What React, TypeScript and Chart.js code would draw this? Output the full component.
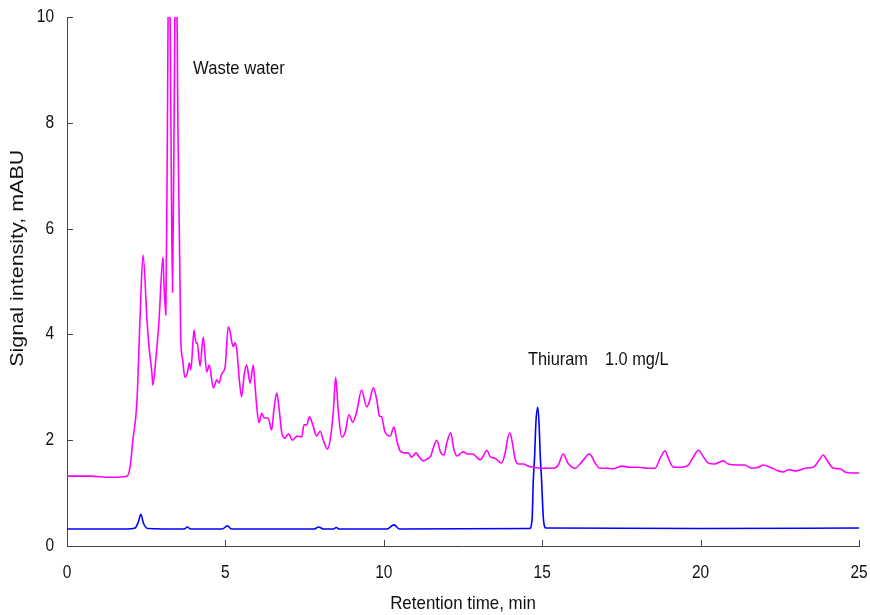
import React, { useEffect, useRef } from "react";
import { Chart, registerables } from "chart.js";

Chart.register(...registerables);

// Waste water trace (magenta): retention time (min) and signal (mABU)
const wasteTime = [
  0, 0.73, 1.36, 1.89, 1.99, 2.08, 2.21, 2.30, 2.40, 2.53, 2.59, 2.68, 2.71, 2.81, 2.90, 3.03, 3.06, 3.12,
  3.17, 3.22, 3.28, 3.33, 3.38, 3.44, 3.50, 3.59, 3.65, 3.72, 3.80, 3.86, 3.91, 4.01, 4.07, 4.11, 4.20,
  4.30, 4.41, 4.49, 4.62, 4.73, 4.80, 4.88, 4.99, 5.09, 5.15, 5.20, 5.25, 5.30, 5.36, 5.44, 5.51, 5.60,
  5.67, 5.78, 5.88, 5.93, 5.99, 6.06, 6.15, 6.22, 6.35, 6.46, 6.53, 6.62, 6.70, 6.78, 6.88, 6.99, 7.12,
  7.27, 7.41, 7.48, 7.57, 7.65, 7.76, 7.88, 7.99, 8.09, 8.22, 8.32, 8.41, 8.48, 8.56, 8.67, 8.78, 8.90,
  9.02, 9.14, 9.30, 9.46, 9.54, 9.67, 9.78, 9.86, 9.93, 10.04, 10.20, 10.32, 10.41, 10.51, 10.64, 10.77,
  10.88, 11.02, 11.12, 11.25, 11.35, 11.48, 11.56, 11.67, 11.80, 11.90, 11.99, 12.11, 12.22, 12.32,
  12.40, 12.51, 12.64, 12.81, 12.93, 13.04, 13.14, 13.25, 13.37, 13.51, 13.61, 13.72, 13.83, 13.90,
  13.98, 14.07, 14.14, 14.25, 14.40, 14.56, 14.72, 14.93, 15.14, 15.35, 15.51, 15.66, 15.81, 16.04,
  16.25, 16.49, 16.67, 16.82, 17.04, 17.24, 17.51, 17.77, 18.03, 18.35, 18.56, 18.74, 18.88, 18.98,
  19.14, 19.40, 19.61, 19.77, 19.93, 20.09, 20.24, 20.45, 20.61, 20.72, 20.87, 21.14, 21.40, 21.61,
  21.82, 21.98, 22.19, 22.45, 22.61, 22.77, 23.03, 23.30, 23.56, 23.75, 23.87, 24.00, 24.19, 24.40,
  24.56, 24.77, 25.0,
];
const wasteSignal = [
  1.32, 1.32, 1.30, 1.32, 1.49, 2.00, 2.76, 4.22, 5.50, 4.22, 3.76, 3.27, 3.04, 3.57, 4.22, 5.46, 4.97, 4.37,
  8.0, 12.0, 8.0, 4.80, 8.0, 12.0, 8.0, 3.95, 3.52, 3.19, 3.27, 3.46, 3.33, 4.08, 3.84, 3.84, 3.40,
  3.95, 3.29, 3.42, 2.99, 3.14, 3.08, 3.25, 3.38, 4.14, 4.05, 3.86, 3.77, 3.84, 3.71, 3.14, 2.82, 3.27,
  3.42, 3.08, 3.42, 3.08, 2.63, 2.33, 2.51, 2.42, 2.42, 2.19, 2.57, 2.89, 2.57, 2.14, 2.04, 2.12, 2.00,
  2.08, 2.06, 2.29, 2.29, 2.44, 2.29, 2.08, 2.17, 2.00, 1.83, 2.06, 2.57, 3.19, 2.57, 2.06, 2.15, 2.48,
  2.34, 2.53, 2.95, 2.63, 2.72, 2.99, 2.76, 2.46, 2.44, 2.15, 2.08, 2.25, 2.00, 1.80, 1.76, 1.76,
  1.68, 1.76, 1.68, 1.61, 1.64, 1.70, 1.85, 2.00, 1.76, 1.72, 1.95, 2.14, 1.81, 1.70,
  1.74, 1.78, 1.74, 1.74, 1.68, 1.63, 1.70, 1.81, 1.68, 1.66, 1.61, 1.57, 1.76, 2.00,
  2.14, 1.91, 1.66, 1.55, 1.55, 1.51, 1.49, 1.47, 1.47, 1.47, 1.53, 1.74, 1.57, 1.47,
  1.59, 1.74, 1.57, 1.47, 1.47, 1.46, 1.51, 1.49, 1.49, 1.47, 1.47, 1.68, 1.80, 1.66,
  1.49, 1.49, 1.53, 1.68, 1.81, 1.68, 1.57, 1.55, 1.59, 1.61, 1.55, 1.53, 1.53, 1.47,
  1.49, 1.53, 1.49, 1.42, 1.40, 1.44, 1.42, 1.47, 1.49, 1.63, 1.72, 1.61, 1.47, 1.46,
  1.40, 1.38, 1.38,
];

// Thiuram 1.0 mg/L trace (blue)
const thiuramTime = [
  0, 1.9, 2.15, 2.25, 2.33, 2.42, 2.55, 3.7, 3.8, 3.9, 4.9, 5.06, 5.2, 7.8, 7.94, 8.1, 8.4, 8.5, 8.6,
  10.1, 10.32, 10.5, 14.6, 14.68, 14.72, 14.76, 14.80, 14.86, 14.90, 14.94, 14.98, 15.04, 15.12, 20.0, 25.0,
];
const thiuramSignal = [
  0.32, 0.32, 0.34, 0.45, 0.60, 0.42, 0.33, 0.32, 0.36, 0.32, 0.32, 0.38, 0.32, 0.32, 0.36, 0.32, 0.32, 0.35, 0.32,
  0.32, 0.40, 0.32, 0.33, 0.50, 1.25, 1.69, 2.32, 2.62, 2.32, 1.69, 1.25, 0.50, 0.34, 0.33, 0.34,
];

const xTicks = [0, 5, 10, 15, 20, 25];
const yTicks = [0, 2, 4, 6, 8, 10];
const xTitle = "Retention time, min";
const yTitle = "Signal intensity, mABU";

const FONT = "'Liberation Sans', Arial, sans-serif";
const AXIS_COLOR = "#444";
const TEXT_COLOR = "#111";

function condensedText(ctx: CanvasRenderingContext2D, text: string, x: number, y: number, align: CanvasTextAlign, size: number, sx: number) {
  ctx.save();
  ctx.translate(x, y);
  ctx.scale(sx, 1);
  ctx.font = `${size}px ${FONT}`;
  ctx.textAlign = align;
  ctx.textBaseline = "middle";
  ctx.fillStyle = TEXT_COLOR;
  ctx.fillText(text, 0, 0);
  ctx.restore();
}

const axisDecor = {
  id: "axisDecor",
  afterDraw(chart: any) {
    const { ctx, scales } = chart;
    const xs = scales.x;
    const ys = scales.y;
    ctx.save();
    ctx.strokeStyle = AXIS_COLOR;
    ctx.lineWidth = 1;
    ctx.beginPath();
    xTicks.forEach((t) => {
      const px = Math.round(xs.getPixelForValue(t)) + 0.5;
      ctx.moveTo(px, ys.bottom);
      ctx.lineTo(px, ys.bottom - 6);
    });
    yTicks.forEach((v) => {
      const py = Math.round(ys.getPixelForValue(v)) + 0.5;
      ctx.moveTo(xs.left, py);
      ctx.lineTo(xs.left + 6, py);
    });
    ctx.stroke();
    ctx.restore();

    // tick labels
    xTicks.forEach((t) => {
      condensedText(ctx, String(t), xs.getPixelForValue(t), ys.bottom + 27, "center", 18, 0.86);
    });
    yTicks.forEach((v) => {
      condensedText(ctx, String(v), xs.left - 13, ys.getPixelForValue(v), "right", 18, 0.86);
    });

    // axis titles
    condensedText(ctx, xTitle, (xs.left + xs.right) / 2, ys.bottom + 58, "center", 19, 0.89);
    ctx.save();
    ctx.translate(18, ys.getPixelForValue(5.44));
    ctx.rotate(-Math.PI / 2);
    ctx.scale(1, 0.87);
    ctx.font = `21.5px ${FONT}`;
    ctx.textAlign = "center";
    ctx.textBaseline = "middle";
    ctx.fillStyle = TEXT_COLOR;
    ctx.fillText(yTitle, 0, 0);
    ctx.restore();

    // annotations
    condensedText(ctx, "Waste water", xs.getPixelForValue(3.98), ys.getPixelForValue(9.02), "left", 19, 0.875);
    condensedText(ctx, "Thiuram", xs.getPixelForValue(14.55), ys.getPixelForValue(3.52), "left", 19, 0.86);
    condensedText(ctx, "1.0 mg/L", xs.getPixelForValue(16.98), ys.getPixelForValue(3.52), "left", 19, 0.86);
  },
};

export default function App() {
  const ref = useRef<HTMLCanvasElement>(null);

  useEffect(() => {
    document.body.style.margin = "0";
    const canvas = ref.current;
    if (!canvas) return;
    const chart = new Chart(canvas, {
      type: "line",
      data: {
        datasets: [
          {
            label: "Waste water",
            data: wasteTime.map((t, i) => ({ x: t, y: wasteSignal[i] })),
            borderColor: "#FF00FF",
            borderWidth: 1.6,
            pointRadius: 0,
            cubicInterpolationMode: "monotone",
            fill: false,
          },
          {
            label: "Thiuram 1.0 mg/L",
            data: thiuramTime.map((t, i) => ({ x: t, y: thiuramSignal[i] })),
            borderColor: "#0000FF",
            borderWidth: 1.6,
            pointRadius: 0,
            cubicInterpolationMode: "monotone",
            fill: false,
          },
        ],
      },
      options: {
        animation: false,
        responsive: false,
        layout: { padding: { top: 17, right: 11, left: 0, bottom: 0 } },
        plugins: { legend: { display: false }, tooltip: { enabled: false } },
        scales: {
          x: {
            type: "linear",
            min: 0,
            max: 25,
            afterFit: (s: any) => {
              s.height = 69;
              s.paddingLeft = 0;
              s.paddingRight = 0;
            },
            afterBuildTicks: (s: any) => {
              s.ticks = xTicks.map((v) => ({ value: v }));
            },
            grid: { drawOnChartArea: false, drawTicks: false },
            border: { display: true, color: AXIS_COLOR, width: 1 },
            ticks: { display: false },
            title: { display: false },
          },
          y: {
            type: "linear",
            min: 0,
            max: 10,
            afterFit: (s: any) => {
              s.width = 67;
              s.paddingTop = 0;
              s.paddingBottom = 0;
            },
            afterBuildTicks: (s: any) => {
              s.ticks = yTicks.map((v) => ({ value: v }));
            },
            grid: { drawOnChartArea: false, drawTicks: false },
            border: { display: true, color: AXIS_COLOR, width: 1 },
            ticks: { display: false },
            title: { display: false },
          },
        },
      },
      plugins: [axisDecor],
    });
    return () => chart.destroy();
  }, []);

  return (
    <div style={{ width: 870, height: 615 }}>
      <canvas ref={ref} width={870} height={615} style={{ display: "block" }} />
    </div>
  );
}
